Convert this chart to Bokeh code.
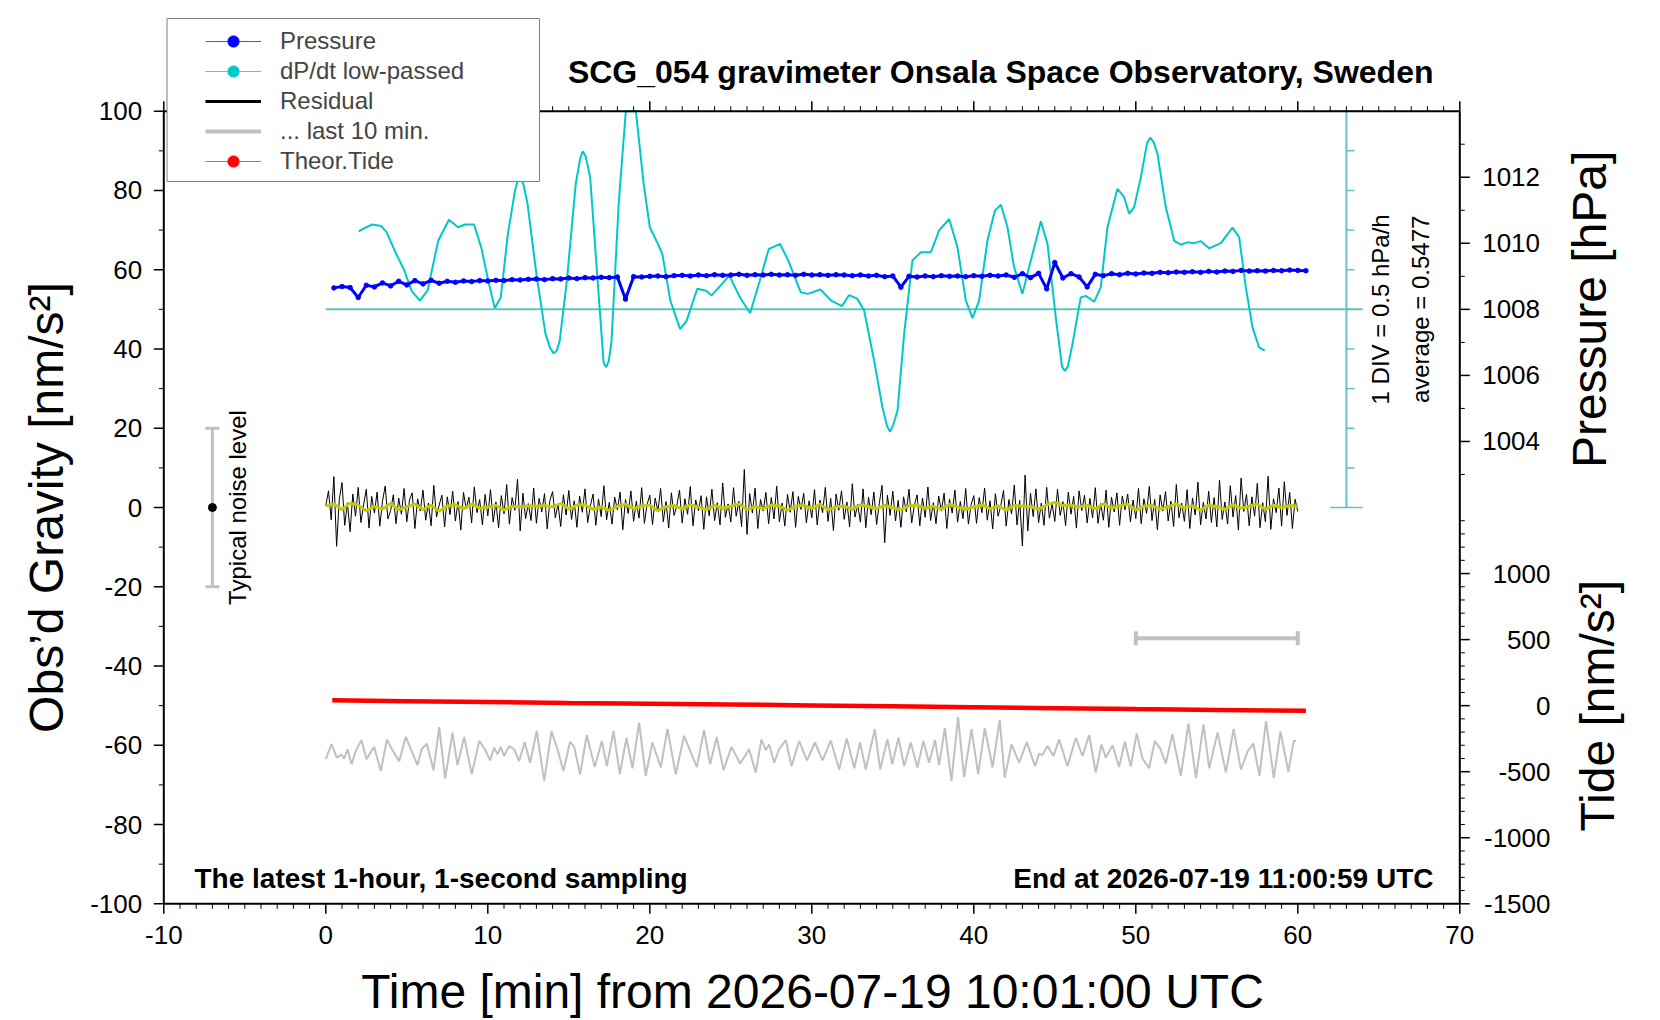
from math import pi

from bokeh.plotting import figure
from bokeh.models import Range1d, Label, Legend, LegendItem
from bokeh.core.properties import value
from bokeh.embed import file_html
from bokeh.resources import INLINE

FONT = "Liberation Sans"

# ---- data ----
# residual gravity (nm/s^2), 10-s steps from 0 to 60 min
resid = [
    0.5, 4.2, -3.1, 7.8, -9.8, 2.1, 6.3, -4.5, 1.2, -6.1, 3.4, -2.2, 5.1, -3.8, 0.7, 4.6, -5.2, 2.8, -1.4, 3.9, -4.7, 1.6, 5.4, -2.9, -0.8, 3.2, -4.1, 2.4, -1.7, 4.8,
    -3.6, 1.9, 3.7, -5.3, 2.2, -0.9, 4.4, -3.2, 1.1, -4.6, 5.6, -2.4, 0.6, 3.1, -4.9, 2.7, -1.8, 4.1, -3.4, 1.5, -5.7, 3.8, -0.4, 2.6, -3.9, 5.2, -1.3, 2.0, -4.4, 3.3,
    -2.1, 4.5, -3.7, 1.4, -5.1, 3.0, -1.6, 5.8, -4.2, 2.5, -0.7, 7.1, -5.9, 3.6, -2.8, 1.0, -3.3, 4.9, -4.0, 2.3, -1.1, 3.5, -5.4, 1.8, 4.0, -2.6, 0.9, -4.8, 3.2, -1.9,
    4.3, -3.0, 1.7, -5.0, 2.9, -1.2, 4.7, -3.8, 0.5, 3.4, -4.5, 2.1, -2.3, 5.5, -3.1, 1.3, -4.2, 2.6, -0.6, 3.9, -5.6, 2.0, -1.5, 4.2, -3.5, 1.6, -2.7, 5.0, -4.0, 0.8,
    3.1, -4.3, 2.4, -1.0, 4.8, -3.6, 1.5, -5.2, 3.7, -2.0, 0.4, 4.4, -3.9, 2.2, -1.7, 5.3, -4.6, 1.9, -0.8, 3.0, -5.5, 2.7, -2.1, 4.6, -3.3, 1.2, -4.4, 6.2, -2.5, 0.9,
    -3.7, 5.0, -2.2, 1.6, -4.8, 9.6, -6.8, 3.5, -1.4, 4.9, -5.3, 2.0, -0.9, 3.8, -4.1, 2.5, -2.9, 5.4, -3.6, 1.1, -4.7, 3.3, -1.2, 4.0, -5.0, 2.8, -0.5, 3.6, -3.9, 1.7,
    -2.6, 4.5, -4.4, 1.9, -1.3, 5.1, -3.5, 2.3, -5.8, 3.4, -0.7, 4.2, -3.0, 1.4, -4.9, 6.0, -2.4, 0.8, -3.7, 4.7, -5.1, 2.6, -1.8, 3.9, -4.3, 1.0, 5.6, -8.9, 3.1, -2.0,
    4.1, -3.4, 1.8, -5.0, 2.7, -1.1, 4.6, -3.9, 0.6, 3.2, -4.6, 2.4, -2.5, 5.2, -3.3, 1.2, -4.1, 2.9, -0.9, 3.6, -5.3, 2.1, -1.4, 4.4, -3.7, 1.5, -2.8, 4.8, -4.2, 0.7,
    3.0, -4.0, 2.5, -1.3, 4.9, -3.2, 1.7, -5.4, 3.5, -2.2, 0.5, 4.3, -4.7, 2.0, -1.6, 5.7, -4.4, 1.8, -9.7, 8.2, -5.9, 3.6, -2.3, 4.7, -3.8, 1.1, -4.5, 5.1, -2.7, 0.9,
    -3.5, 4.6, -2.0, 1.5, -4.6, 3.9, -1.7, 2.8, -5.2, 4.2, -0.8, 3.1, -3.9, 2.3, -2.6, 5.0, -4.0, 1.0, -3.2, 4.4, -5.0, 2.6, -1.1, 3.7, -4.5, 2.9, -0.6, 3.4, -3.6, 1.9,
    -2.8, 4.8, -4.1, 2.2, -1.5, 5.3, -3.3, 2.0, -5.6, 3.2, -0.9, 4.0, -3.4, 1.6, -4.8, 5.8, -2.6, 1.1, -3.5, 4.5, -5.3, 2.4, -1.9, 6.4, -4.4, 1.3, -2.9, 4.1, -3.8, 2.5,
    -4.9, 6.9, -3.0, 1.4, -4.2, 5.5, -2.4, 3.0, -5.7, 7.4, -1.0, 3.3, -4.6, 2.7, -2.2, 6.1, -5.1, 1.2, -3.6, 7.9, -5.5, 2.2, -1.3, 4.9, -4.7, 6.5, -2.0, 3.8, -5.3, 2.1,
    -1.0,
]
resid_step = 1 / 6

# low-passed residual (yellow), 30-s steps
resid_smooth = [
    0.4, 0.9, -0.5, 1.1, 0.6, -0.8, 0.3, -0.4, 1.0, -0.6, 0.2, 0.8, -0.5, 0.6, -0.9, 0.4, 0.7, -0.3, 0.9, -0.2, 0.1, 0.5, -0.6, 0.3, 0.2, 0.4, 0.3, 0.5, 0.2, 1.0,
    -0.4, 0.6, 0.7, -0.5, 0.2, -0.7, 0.3, 0.8, -0.3, 0.4, 0.6, -0.8, 0.2, 0.5, -0.4, 0.7, 0.1, -0.6, 0.5, -0.2, 0.3, 0.9, -0.5, 0.2, -0.3, 0.6, 0.4, -0.7, 0.3, 0.5,
    -0.2, 0.8, -0.6, 0.1, 0.4, -0.5, 0.7, 0.2, -0.3, 0.5, 0.0, -0.6, 0.4, 0.6, -0.2, 0.3, -0.4, 0.8, 0.1, -0.5, 0.2, 0.6, -0.3, 0.4, -0.7, 0.5, 0.4, 0.2, -0.4, 0.7,
    1.3, 0.5, 0.6, 0.1, 0.5, -0.3, 0.9, -0.2, 0.4, 0.8, -0.6, 0.3, 0.5, -0.4, 0.2, 0.9, -0.1, 0.4, -0.7, 0.6, 0.2, -0.5, 0.7, -0.2, 0.3, 0.8, -0.4, 0.6, -0.1, 0.5, 0.3,
]
smooth_step = 0.5

# air pressure (hPa), 30-s steps starting at 0.5 min
pres_start = 0.5
pres_step = 0.5
pressure = [
    1008.65, 1008.69, 1008.66, 1008.36, 1008.73, 1008.68, 1008.80, 1008.71, 1008.85, 1008.74,
    1008.87, 1008.77, 1008.88, 1008.79, 1008.85, 1008.82, 1008.86, 1008.84, 1008.87, 1008.86,
    1008.88, 1008.87, 1008.90, 1008.89, 1008.91, 1008.92, 1008.90, 1008.93, 1008.92, 1008.95,
    1008.93, 1008.96, 1008.95, 1008.97, 1008.96, 1008.98, 1008.31, 1008.99, 1008.98, 1009.00,
    1009.01, 1008.99, 1009.02, 1009.03, 1009.01, 1009.04, 1009.02, 1009.05, 1009.03, 1009.04,
    1009.06, 1009.03, 1009.05, 1009.04, 1009.06, 1009.04, 1009.05, 1009.03, 1009.06, 1009.04,
    1009.05, 1009.03, 1009.05, 1009.04, 1009.02, 1009.04, 1009.01, 1009.03, 1008.99, 1009.01,
    1008.67, 1009.00, 1008.98, 1009.01, 1008.99, 1009.02, 1009.00, 1009.01, 1008.99, 1009.02,
    1009.00, 1009.03, 1009.01, 1009.04, 1008.97, 1009.08, 1008.96, 1009.09, 1008.62, 1009.42,
    1008.95, 1009.08, 1008.98, 1008.68, 1009.06, 1009.02, 1009.08, 1009.05, 1009.09, 1009.07,
    1009.10, 1009.09, 1009.12, 1009.11, 1009.13, 1009.12, 1009.14, 1009.12, 1009.15, 1009.13,
    1009.16, 1009.15, 1009.18, 1009.16, 1009.17, 1009.16, 1009.18, 1009.17, 1009.19, 1009.18,
    1009.17,
]

# dP/dt low-passed (hPa/h)
dpdt_avg = 0.5477
dpdt_div = 0.5
dpdt_t = [
    2.03, 2.3, 2.87, 3.42, 3.75, 4.3, 4.85, 5.29, 5.8, 6.28, 6.94, 7.6, 8.16, 8.6, 9.15, 9.59, 10.03, 10.43, 10.8, 11.24,
    11.68, 11.85, 12.0, 12.2, 12.45, 13.0, 13.56, 13.85, 14.07, 14.25, 14.44, 14.88, 15.43, 15.7, 15.87, 16.05, 16.32, 16.75, 17.15, 17.31,
    17.47, 17.64, 18.08, 18.52, 18.85, 19.14, 19.62, 20.0, 20.5, 20.77, 21.27, 21.87, 22.27, 22.93, 23.48, 23.81, 24.36, 24.91, 25.57, 26.19,
    26.79, 27.34, 28.04, 28.55, 29.32, 29.76, 30.53, 31.2, 31.86, 32.3, 32.8, 33.23, 33.85, 34.36, 34.65, 34.83, 35.02, 35.29, 35.7, 36.21,
    36.73, 37.35, 37.86, 38.48, 38.99, 39.51, 39.92, 40.33, 40.84, 41.3, 41.67, 42.08, 42.49, 43.0, 43.52, 44.14, 44.55, 45.06, 45.45, 45.62,
    45.8, 46.09, 46.6, 46.91, 47.43, 47.84, 48.25, 48.87, 49.28, 49.59, 49.9, 50.31, 50.7, 50.89, 51.1, 51.34, 51.85, 52.37, 52.78, 53.19,
    53.6, 54.01, 54.53, 55.25, 55.97, 56.38, 56.79, 57.2, 57.61, 57.96,
]
dpdt = [
    1.533, 1.563, 1.618, 1.598, 1.523, 1.268, 1.038, 0.783, 0.658, 0.783, 1.413, 1.678, 1.583, 1.618, 1.618, 1.333, 0.908, 0.563, 0.698, 1.498,
    2.048, 2.173, 2.213, 2.123, 1.883, 0.993, 0.238, 0.058, -0.007, 0.023, 0.153, 0.908, 2.133, 2.448, 2.543, 2.473, 2.213, 0.993, -0.128, -0.182,
    -0.102, 0.153, 1.883, 3.048, 3.048, 3.048, 2.133, 1.583, 1.373, 1.248, 0.658, 0.298, 0.403, 0.808, 0.783, 0.723, 0.848, 0.973, 0.698, 0.498,
    0.908, 1.308, 1.373, 1.163, 0.763, 0.743, 0.798, 0.658, 0.588, 0.728, 0.683, 0.533, -0.102, -0.688, -0.928, -0.998, -0.912, -0.732, 0.238, 1.163,
    1.268, 1.268, 1.543, 1.688, 1.333, 0.658, 0.438, 0.658, 1.413, 1.793, 1.868, 1.583, 1.078, 0.743, 1.163, 1.658, 1.373, 0.448, -0.178, -0.228,
    -0.178, 0.108, 0.698, 0.718, 0.643, 0.828, 1.583, 2.068, 1.963, 1.753, 1.838, 2.213, 2.648, 2.713, 2.658, 2.508, 1.838, 1.413, 1.363, 1.393,
    1.383, 1.408, 1.318, 1.383, 1.578, 1.458, 0.828, 0.323, 0.068, 0.028,
]

# theoretical tide (nm/s^2)
tide_t = [0.4, 5, 10, 15, 20, 25, 30, 35, 40, 45, 50, 55, 60.5]
tide = [40, 34, 28, 21, 15, 9, 2, -5, -12, -19, -26, -32, -39]

# last 10 min of residual, replotted over the whole hour (offset -60)
last_t = [
    0.0, 0.35, 0.68, 0.97, 1.13, 1.34, 1.59, 1.85, 2.2, 2.51,
    2.98, 3.4, 3.77, 4.06, 4.53, 4.94, 5.25, 5.66, 5.91, 6.24,
    6.65, 7.0, 7.37, 7.82, 8.13, 8.54, 9.01, 9.47, 9.82, 10.15,
    10.39, 10.6, 10.8, 11.0, 11.32, 11.63, 11.93, 12.28, 12.61, 13.02,
    13.48, 13.93, 14.3, 14.67, 15.08, 15.33, 15.7, 16.11, 16.6, 17.04,
    17.35, 17.76, 18.15, 18.56, 18.93, 19.34, 19.75, 20.16, 20.68, 21.09,
    21.6, 22.12, 22.9, 23.35, 23.72, 24.13, 24.55, 25.04, 25.58, 26.13,
    26.54, 26.89, 27.16, 27.37, 27.68, 27.98, 28.4, 28.75, 29.22, 29.7,
    30.2, 30.66, 31.17, 31.69, 32.16, 32.62, 32.98, 33.33, 33.89, 34.22,
    34.67, 34.97, 35.35, 35.7, 36.11, 36.52, 36.89, 37.24, 37.61, 37.86,
    38.21, 38.62, 39.03, 39.4, 39.86, 40.27, 40.68, 41.16, 41.6, 41.91,
    42.33, 42.8, 43.27, 43.78, 44.03, 44.24, 44.55, 44.92, 45.27, 45.78,
    46.3, 46.71, 47.12, 47.53, 47.88, 48.15, 48.56, 48.97, 49.32, 49.69,
    50.06, 50.41, 50.82, 51.17, 51.5, 51.85, 52.26, 52.78, 53.25, 53.71,
    54.18, 54.53, 55.05, 55.56, 56.04, 56.49, 56.91, 57.26, 57.63, 58.04,
    58.52, 58.93, 59.42, 59.75, 59.89,
]
last_y = [
    -63.5, -59.7, -63.1, -62.3, -63.4, -61.0, -64.8, -61.4, -58.7, -63.5,
    -60.4, -66.5, -58.5, -60.8, -64.0, -57.9, -61.0, -65.0, -61.0, -59.6,
    -66.3, -55.4, -68.4, -56.8, -65.0, -57.9, -67.3, -58.9, -61.0, -63.8,
    -60.6, -62.3, -60.4, -62.7, -60.2, -61.0, -64.0, -59.2, -64.4, -56.4,
    -69.0, -56.5, -61.0, -66.5, -59.1, -60.4, -67.3, -57.4, -65.5, -58.9,
    -65.3, -56.4, -67.3, -58.1, -65.8, -54.3, -67.7, -59.3, -65.6, -55.9,
    -67.3, -57.6, -65.5, -56.1, -64.8, -57.9, -66.3, -60.4, -64.6, -61.0,
    -66.9, -58.5, -61.2, -59.8, -64.4, -61.0, -58.7, -65.3, -58.9, -63.8,
    -59.3, -63.8, -58.8, -66.1, -58.3, -65.8, -59.3, -66.1, -55.9, -66.1,
    -58.5, -64.8, -58.0, -65.3, -59.3, -65.6, -58.9, -64.4, -58.7, -65.0,
    -55.7, -69.0, -52.9, -68.0, -55.9, -67.3, -55.7, -65.6, -53.6, -68.2,
    -59.8, -64.4, -59.2, -65.3, -62.1, -62.5, -60.2, -62.7, -58.5, -65.3,
    -58.1, -62.7, -57.4, -66.9, -59.8, -63.1, -60.0, -65.5, -59.1, -65.3,
    -57.0, -63.3, -65.8, -58.9, -60.8, -64.6, -57.2, -67.7, -54.5, -68.3,
    -54.7, -65.8, -56.8, -66.9, -55.9, -66.1, -61.5, -59.6, -67.7, -53.9,
    -68.3, -56.5, -66.7, -58.9, -58.9,
]
last_window = [50, 60]
last_window_y = -33

noise_x = -7
noise_half = 20

x_ticks = list(range(-10, 71, 10))
y_ticks = list(range(-100, 101, 20))
pres_labels = [1004, 1006, 1008, 1010, 1012]
pres_minor = [1003, 1005, 1007, 1009, 1011, 1013]
tide_labels = [-1500, -1000, -500, 0, 500, 1000]

resid_t = [i * resid_step for i in range(len(resid))]
smooth_t = [i * smooth_step for i in range(len(resid_smooth))]
pres_t = [pres_start + i * pres_step for i in range(len(pressure))]

# ---- geometry: the whole canvas is the frame, the plot box sits inside it ----
W, H = 1660, 1020
X0, X1, Y0, Y1 = -10, 70, -100, 100
BOX_L, BOX_R, BOX_T, BOX_B = 163.3, 1459.3, 110.7, 903.3
PX_X = (BOX_R - BOX_L) / (X1 - X0)
PX_Y = (BOX_B - BOX_T) / (Y1 - Y0)


def sx(px):
    return X0 + (px - BOX_L) / PX_X


def sy(py):
    return Y1 - (py - BOX_T) / PX_Y


p = figure(frame_width=W, frame_height=H, min_border=0, title=None,
           x_range=Range1d(sx(0), sx(W)), y_range=Range1d(sy(H), sy(0)),
           x_axis_location=None, y_axis_location=None,
           toolbar_location=None, tools="", output_backend="svg")
p.grid.visible = False
p.outline_line_color = None
p.extra_y_ranges = {
    "pres": Range1d(990, 1014),
    "tide": Range1d(-1500, 4500),
    "dpdt": Range1d(dpdt_avg - 15 * dpdt_div, dpdt_avg + 5 * dpdt_div),
}
for name in ("pres", "tide", "dpdt"):
    rng = p.extra_y_ranges[name]
    span = (rng.end - rng.start) / (Y1 - Y0)
    rng.start, rng.end = rng.start + (sy(H) - Y0) * span, rng.end + (sy(0) - Y1) * span

CYAN = "#00c8c8"
CYAN_AX = "#66c2c2"
GRAY = "#c0c0c0"

# ---- series ----
p.line(last_t, last_y, color=GRAY, line_width=2)
p.line(resid_t, resid, color="black", line_width=1)
p.line(smooth_t, resid_smooth, color="#c8c800", line_width=3)
p.line(tide_t, tide, y_range_name="tide", color="red", line_width=4.5)

# dP/dt scale
p.segment(x0=[0], y0=[dpdt_avg], x1=[64], y1=[dpdt_avg], y_range_name="dpdt",
          color=CYAN_AX, line_width=2)
p.segment(x0=[63], y0=[dpdt_avg - 5 * dpdt_div], x1=[63], y1=[dpdt_avg + 5 * dpdt_div],
          y_range_name="dpdt", color=CYAN_AX, line_width=2)
ks = list(range(-5, 6))
p.segment(x0=[62 if abs(k) == 5 else 63 for k in ks], y0=[dpdt_avg + k * dpdt_div for k in ks],
          x1=[64 if abs(k) == 5 else 63.5 for k in ks], y1=[dpdt_avg + k * dpdt_div for k in ks],
          y_range_name="dpdt", color=CYAN_AX, line_width=1.5)
p.line(dpdt_t, dpdt, y_range_name="dpdt", color=CYAN, line_width=2)

p.line(pres_t, pressure, y_range_name="pres", color="blue", line_width=3)
p.scatter(pres_t, pressure, y_range_name="pres", color="blue", size=4.5)

# window bar and noise bar
p.segment(x0=[last_window[0]], y0=[last_window_y], x1=[last_window[1]], y1=[last_window_y],
          color=GRAY, line_width=4)
p.scatter(last_window, [last_window_y] * 2, marker="dash", angle=pi / 2, size=14,
          line_color=GRAY, line_width=4)
p.segment(x0=[noise_x], y0=[-noise_half], x1=[noise_x], y1=[noise_half], color=GRAY, line_width=3)
p.scatter([noise_x, noise_x], [-noise_half, noise_half], marker="dash", size=14,
          line_color=GRAY, line_width=3)
p.scatter([noise_x], [0], color="black", size=8)

# ---- plot box and axes ----
p.segment(x0=[X0, X1, X0, X0], y0=[Y0, Y0, Y0, Y1], x1=[X0, X1, X1, X1], y1=[Y1, Y1, Y0, Y1],
          color="black", line_width=2)


def ticks(xs, ys, angle, length, width, **kw):
    p.ray(x=xs, y=ys, length=length, length_units="screen", angle=angle,
          line_color="black", line_width=width, **kw)


x_minor = [v for v in range(X0, X1 + 1) if v % 10]
y_minor = [v for v in range(Y0, Y1 + 1, 10) if v % 20]
ticks(x_ticks, [Y0] * len(x_ticks), -pi / 2, 10, 1.5)
ticks(x_minor, [Y0] * len(x_minor), -pi / 2, 5, 1)
ticks(x_ticks, [Y1] * len(x_ticks), pi / 2, 10, 1.5)
ticks(x_minor, [Y1] * len(x_minor), pi / 2, 5, 1)
ticks([X0] * len(y_ticks), y_ticks, pi, 10, 1.5)
ticks([X0] * len(y_minor), y_minor, pi, 5, 1)
ticks([X1] * len(pres_labels), pres_labels, 0, 10, 1.5, y_range_name="pres")
ticks([X1] * len(pres_minor), pres_minor, 0, 5, 1, y_range_name="pres")
tide_minor = [v for v in range(-1400, 1500, 100) if v % 500]
ticks([X1] * len(tide_labels), tide_labels, 0, 10, 1.5, y_range_name="tide")
ticks([X1] * len(tide_minor), tide_minor, 0, 5, 1, y_range_name="tide")

TICK_FONT = dict(text_font=value(FONT), text_font_size="26px", text_color="black",
                 text_baseline="middle")
p.text(x=x_ticks, y=[sy(934)] * len(x_ticks), text=[str(v) for v in x_ticks],
       text_align="center", **TICK_FONT)
p.text(x=[sx(141.7)] * len(y_ticks), y=y_ticks, text=[str(v) for v in y_ticks],
       text_align="right", **TICK_FONT)
p.text(x=[sx(1481.7)] * len(pres_labels), y=pres_labels, text=[str(v) for v in pres_labels],
       text_align="left", y_range_name="pres", **TICK_FONT)
p.text(x=[sx(1550)] * len(tide_labels), y=tide_labels, text=[str(v) for v in tide_labels],
       text_align="right", y_range_name="tide", **TICK_FONT)

# legend box, drawn over the curves
LEG_L, LEG_R, LEG_T, LEG_B = 166.5, 539, 18, 181
p.quad(left=[sx(LEG_L)], right=[sx(LEG_R)], top=[sy(LEG_T)], bottom=[sy(LEG_B)],
       fill_color="white", line_color="#808080", line_width=1)


# ---- texts ----
def label(x, y, text, size, align="center", angle=0, bold=False, **kw):
    p.add_layout(Label(x=x, y=y, text=text, text_font=FONT, text_font_size=size,
                       text_align=align, text_baseline="middle", angle=angle,
                       text_font_style="bold" if bold else "normal", text_color="black", **kw))


label(sx(1433), sy(71), "SCG_054 gravimeter Onsala Space Observatory, Sweden", "32px",
      align="right", bold=True)
label(sx(194), sy(878), "The latest 1-hour, 1-second sampling", "28px", align="left", bold=True)
label(sx(1433), sy(878), "End at 2026-07-19 11:00:59 UTC", "28px", align="right", bold=True)
label(sx(812), sy(990.5), "Time [min] from 2026-07-19 10:01:00 UTC", "48px")
label(sx(45.5), 0, "Obs\u2019d Gravity [nm/s\u00b2]", "48px", angle=pi / 2)
label(sx(1588.6), 1008, "Pressure [hPa]", "48px", angle=pi / 2, y_range_name="pres")
label(sx(1597), 0, "Tide [nm/s\u00b2]", "48px", angle=pi / 2, y_range_name="tide")
label(sx(237), 0, "Typical noise level", "24px", angle=pi / 2)
label(sx(1380), dpdt_avg, f"1 DIV = {dpdt_div} hPa/h", "24px", angle=pi / 2,
      y_range_name="dpdt")
label(sx(1420), dpdt_avg, f"average = {dpdt_avg}", "24px", angle=pi / 2,
      y_range_name="dpdt")

# ---- legend entries (sample glyphs sit off the canvas) ----
off_x, off_y = [sx(-500), sx(-400)], [sy(-500), sy(-500)]
lg_p = [p.line(off_x, off_y, color="#4a4aff", line_width=1),
        p.scatter(off_x[:1], off_y[:1], color="blue", size=9)]
lg_d = [p.line(off_x, off_y, color="#40d0d0", line_width=1),
        p.scatter(off_x[:1], off_y[:1], color=CYAN, size=9)]
lg_r = [p.line(off_x, off_y, color="black", line_width=3)]
lg_l = [p.line(off_x, off_y, color=GRAY, line_width=4)]
lg_t = [p.line(off_x, off_y, color="#ff5050", line_width=1),
        p.scatter(off_x[:1], off_y[:1], color="red", size=9)]

LEG_PAD = 5
legend = Legend(items=[
    LegendItem(label="Pressure", renderers=lg_p),
    LegendItem(label="dP/dt low-passed", renderers=lg_d),
    LegendItem(label="Residual", renderers=lg_r),
    LegendItem(label="... last 10 min.", renderers=lg_l),
    LegendItem(label="Theor.Tide", renderers=lg_t),
], location=(210 - LEG_PAD, H - 175), padding=LEG_PAD, spacing=2, margin=0,
    glyph_width=56, glyph_height=28, label_height=28, label_standoff=19,
    label_text_font=FONT, label_text_font_size="24px",
    border_line_color=None, background_fill_alpha=0)
p.add_layout(legend)

open("out.html", "w").write(file_html(p, INLINE))
